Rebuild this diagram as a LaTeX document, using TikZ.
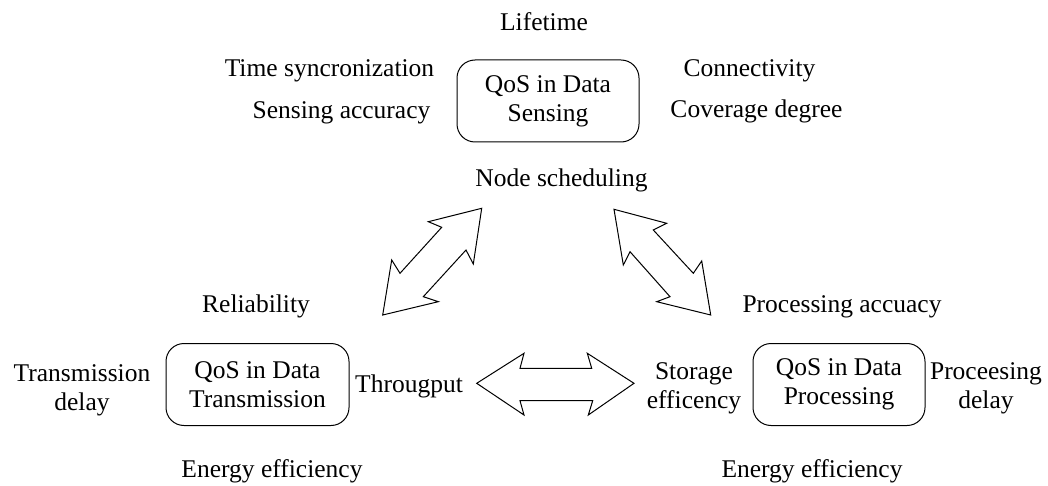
\documentclass[tikz,border=0pt]{standalone}
\usepackage{fontspec}
\setmainfont{Liberation Serif}
\begin{document}
\begin{tikzpicture}[x=0.5pt,y=-0.5pt,
  lbl/.style={font=\fontsize{12.75}{14.5}\selectfont, inner sep=0pt, align=center, anchor=base},
  qos/.style={draw, line width=0.5pt, rounded corners=9pt, font=\fontsize{12.75}{14.5}\selectfont, align=center, inner sep=0pt, minimum height=41pt},
  blk/.style={draw, line width=0.5pt, fill=white, line join=miter}]
\useasboundingbox (0,0) rectangle (1048,486);

% QoS boxes
\node[qos, minimum width=91pt] (sense) at (548,101) {QoS in Data\\Sensing};
\node[qos, minimum width=91.5pt] (trans) at (257.5,384.5) {QoS in Data\\Transmission};
\node[qos, minimum width=86pt] (proc) at (839,384.5) {QoS in Data\\Processing};

% labels (base anchor = baseline of last line)
\node[lbl] (life) at (544,31) {Lifetime};
\node[lbl] (tsync) at (329.5,77) {Time syncronization};
\node[lbl] (conn) at (749.5,77) {Connectivity};
\node[lbl] (sacc) at (341.5,119) {Sensing accuracy};
\node[lbl] (cov) at (756.5,118) {Coverage degree};
\node[lbl] (nsched) at (561.5,187) {Node scheduling};
\node[lbl] (rel) at (256,312) {Reliability};
\node[lbl] (pacc) at (842,312) {Processing accuacy};
\node[lbl] (tdel) at (82,410) {Transmission\\delay};
\node[lbl] (thr) at (409,392) {Througput};
\node[lbl] (stor) at (694,408) {Storage\\efficency};
\node[lbl] (pdel) at (986,408) {Proceesing\\delay};
\node[lbl] (eel) at (272,477) {Energy efficiency};
\node[lbl] (eer) at (812,477) {Energy efficiency};

% block double arrows
\draw[blk] (481.7,208.3) -- (428.3,221.7) -- (441.7,227.3) -- (400,273.3) -- (391.7,260)
  -- (382.7,315) -- (438.3,301.7) -- (423.3,296.7) -- (466,250) -- (473.3,264) -- cycle;
\draw[blk] (614,209.3) -- (666.7,223.3) -- (653.3,230) -- (693.3,273.3) -- (701.7,261)
  -- (710.7,315) -- (656.7,301.7) -- (670,296.7) -- (630,251.7) -- (623.3,265) -- cycle;
\draw[blk] (476.7,383.3) -- (524,353.3) -- (520,368.3) -- (591.7,368.3) -- (587.3,353.3)
  -- (634,383.3) -- (588.3,415) -- (592.7,400.7) -- (520,400.7) -- (524,415) -- cycle;
\end{tikzpicture}
\end{document}
